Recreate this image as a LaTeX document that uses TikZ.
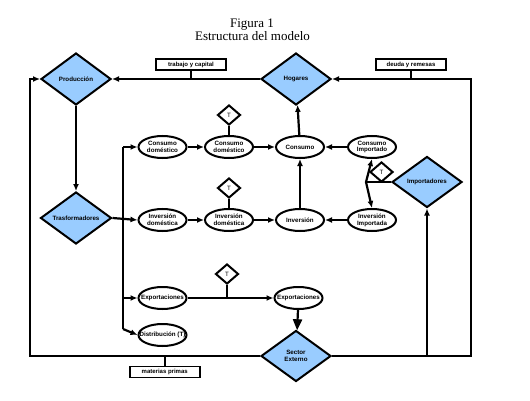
\documentclass[tikz,border=0pt]{standalone}
\usepackage{fontspec}
\setmainfont{Liberation Serif}
\newfontfamily\etiqfont{Liberation Sans}
\usetikzlibrary{shapes, arrows.meta, positioning}
\usepackage{xcolor}
\definecolor{DiamBlue}{RGB}{153,204,255}

\begin{document}
\begin{tikzpicture}[
          x=1pt, y=-1pt,
          node distance=10pt,
          sector/.style={diamond, draw, fill=DiamBlue, line width=2pt, aspect=1.35, inner sep=0pt, minimum width=70pt, minimum height=52pt, align=center, font=\etiqfont\bfseries\fontsize{6.2}{6.8}\selectfont},
          bien/.style={ellipse, draw, fill=white, line width=2pt, inner sep=0pt, minimum width=48pt, minimum height=22pt, align=center, font=\etiqfont\bfseries\fontsize{6.2}{6.8}\selectfont},
          ancho/.style={inner xsep=-7pt},
          impuesto/.style={diamond, draw, fill=white, line width=2pt, inner sep=0pt, minimum width=23pt, minimum height=20pt, font=\etiqfont\fontsize{6.2}{6.8}\selectfont},
          flujo/.style={rectangle, draw, fill=white, line width=1.8pt, inner sep=0pt, minimum width=70pt, minimum height=11pt, font=\etiqfont\bfseries\fontsize{6}{6.6}\selectfont},
          titulo/.style={anchor=base, font=\fontsize{13}{15}\selectfont},
          linea/.style={line width=2.2pt},
          arrow/.style={-{Latex[length=7pt,width=6pt]}, line width=2.2pt}
        ]
          \useasboundingbox (0,0) rectangle (530,401);

          \node (fig) [titulo] at (252,27.3) {Figura 1};
          \node (est) [titulo] at (252.5,41) {Estructura del modelo};

          % sectores
          \node (prod) [sector] at (76,79) {Producción};
          \node (hog) [sector] at (296,79) {Hogares};
          \node (trasf) [sector, minimum width=71pt] at (76,218) {Trasformadores};
          \node (imp) [sector, minimum height=51pt] at (427,182) {Importadores};
          \node (sext) [sector, minimum height=51pt] at (296,356) {Sector\\Externo};

          % bienes
          \node (cdom1) [bien] at (162.5,147) {Consumo\\doméstico};
          \node (cdom2) [bien, right=16.5pt of cdom1] {Consumo\\doméstico};
          \node (cons) [bien, right=21pt of cdom2] {Consumo};
          \node (cimp) [bien, right=22pt of cons] {Consumo\\Importado};
          \node (idom1) [bien, below=49pt of cdom1] {Inversión\\doméstica};
          \node (idom2) [bien, right=16.5pt of idom1] {Inversión\\doméstica};
          \node (inv) [bien, right=21pt of idom2] {Inversión};
          \node (iimp) [bien, right=22pt of inv] {Inversión\\Importada};
          \node (expo1) [bien, ancho, below=54pt of idom1] {Exportaciones};
          \node (expo2) [bien, ancho, right=86pt of expo1] {Exportaciones};
          \node (dist) [bien, ancho, below=13pt of expo1] {Distribución (T)};

          % impuestos
          \node (t1) [impuesto, above=9pt of cdom2] {T};
          \node (t2) [impuesto, above=9pt of idom2] {T};
          \node (t3) [impuesto] at (227,274) {T};
          \node (t4) [impuesto] at (381.5,172) {T};

          % flujos
          \node (trab) [flujo] at (191,64.5) {trabajo y capital};
          \node (deuda) [flujo] at (411,64.5) {deuda y remesas};
          \node (mat) [flujo] at (164.7,372) {materias primas};

          \coordinate (dtop) at (123,147);
          \coordinate (dbot) at (123,329);
          \coordinate (izq) at (30,356);
          \coordinate (der) at (471,356);
          \coordinate (impx) at (366,182);

          \draw [arrow] (hog.west) -- (prod.east);
          \draw [arrow] (prod.south) -- (trasf.north);
          \draw [arrow] (sext.west) -- (izq) |- (prod.west);
          \draw [arrow] (sext.east) -- (der) |- (hog.east);
          \draw [arrow] (imp |- sext) -- (imp.south);
          \draw [linea] (trab.south) -- (trab.south |- prod);
          \draw [linea] (deuda.south) -- (deuda.south |- hog);
          \draw [linea] (mat.north) -- (mat.north |- sext);

          \draw [linea] (dtop) -- (dbot);
          \draw [arrow] (trasf.east) -- (idom1.west);
          \draw [arrow] (dtop) -- (cdom1.west);
          \draw [arrow] (dtop |- expo1) -- (expo1.west);
          \draw [arrow] (dbot) -- (dist.west);

          \draw [arrow] (cdom1) -- (cdom2);
          \draw [arrow] (cdom2) -- (cons);
          \draw [arrow] (cimp) -- (cons);
          \draw [arrow] (idom1) -- (idom2);
          \draw [arrow] (idom2) -- (inv);
          \draw [arrow] (iimp) -- (inv);
          \draw [arrow] (inv) -- (cons);
          \draw [arrow] (cons) -- (hog);
          \draw [arrow] (expo1) -- (expo2);
          \draw [-{Triangle[length=11pt,width=9pt]}, line width=2.2pt] (expo2) -- (sext);

          \draw [linea] (imp.west) -- (impx);
          \draw [arrow] (impx) -- (cimp.south);
          \draw [arrow] (impx) -- (iimp.north);

          \draw [linea] (t1) -- (cdom2);
          \draw [linea] (t2) -- (idom2);
          \draw [linea] (t3.south) -- (t3.south |- expo1);
        \end{tikzpicture}
\end{document}
